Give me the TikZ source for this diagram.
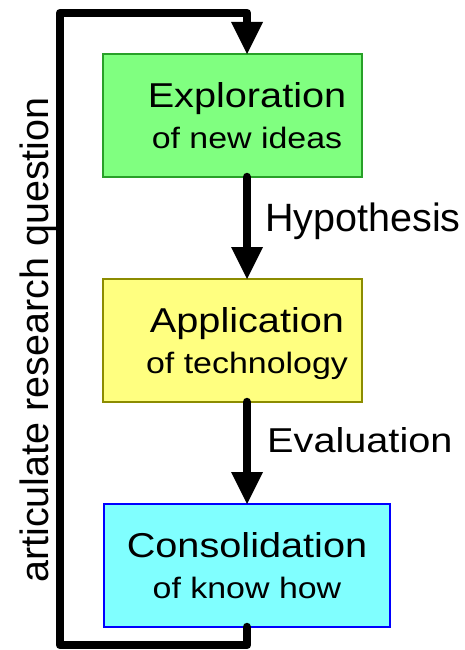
\documentclass[tikz,border=0pt]{standalone}
\usepackage{fontspec}
\setmainfont{Liberation Sans}
\newfontfamily\boxfont{Liberation Sans}[FakeStretch=1.15]
\usetikzlibrary{arrows.meta}

\definecolor{explfill}{RGB}{128,255,128}
\definecolor{expldraw}{RGB}{40,160,40}
\definecolor{applfill}{RGB}{255,255,128}
\definecolor{appldraw}{RGB}{140,140,0}
\definecolor{consfill}{RGB}{128,255,255}
\definecolor{consdraw}{RGB}{0,0,255}

\tikzset{
  stagebox/.style={draw, line width=1.5pt, rectangle, inner sep=0pt,
    minimum height=123pt},
  stagetext/.style={inner sep=0pt, align=center, text depth=0pt,
    font=\boxfont\fontsize{29.5}{41}\selectfont},
  flow/.style={line width=8.5pt, line cap=round, line join=round,
    -{Triangle[length=32pt,width=32pt,line width=0pt]}},
  steplabel/.style={anchor=base west, inner sep=0pt}
}
\newcommand{\stagetitle}[1]{{\fontsize{34.5}{41}\selectfont #1}}

\begin{document}
\begin{tikzpicture}[x=1pt,y=-1pt]
  \useasboundingbox (0,0) rectangle (465,650);

  % three stages
  \node[stagebox, fill=explfill, draw=expldraw, minimum width=259pt] (expl) at (232.5,115.5) {};
  \node[stagetext] (explt) at (247,115.5) {\stagetitle{Exploration}\\of new ideas};
  \node[stagebox, fill=applfill, draw=appldraw, minimum width=259pt] (appl) at (232.5,340.5) {};
  \node[stagetext] (applt) at (247,340.5) {\stagetitle{Application}\\of technology};
  \node[stagebox, fill=consfill, draw=consdraw, minimum width=286pt] (cons) at (247,565.5) {};
  \node[stagetext] (const) at (247,565.5) {\stagetitle{Consolidation}\\of know how};

  % downward flow between stages, on the axis x = 247
  \coordinate (e1) at (247,177);
  \coordinate (a0) at (247,279);
  \coordinate (a1) at (247,402);
  \coordinate (c0) at (247,504);
  \coordinate (c1) at (247,627);
  \coordinate (t0) at (247,54);
  \draw[flow] (e1) -- (a0);
  \draw[flow] (a1) -- (c0);

  \node[steplabel, font=\fontsize{39.5}{44}\selectfont] (hyp) at (265,231.7) {Hypothesis};
  \node[steplabel, font=\boxfont\fontsize{34.5}{40}\selectfont] (eval) at (267,452.3) {Evaluation};

  % feedback loop back to the top
  \draw[flow] (c1) -- (247,645) -- (60,645) -- (60,13) -- (247,13) -- (t0);
  \node[rotate=90, anchor=base, inner sep=0pt, font=\fontsize{39.5}{44}\selectfont] (loop) at (48.3,340)
    {articulate research question};
\end{tikzpicture}
\end{document}
